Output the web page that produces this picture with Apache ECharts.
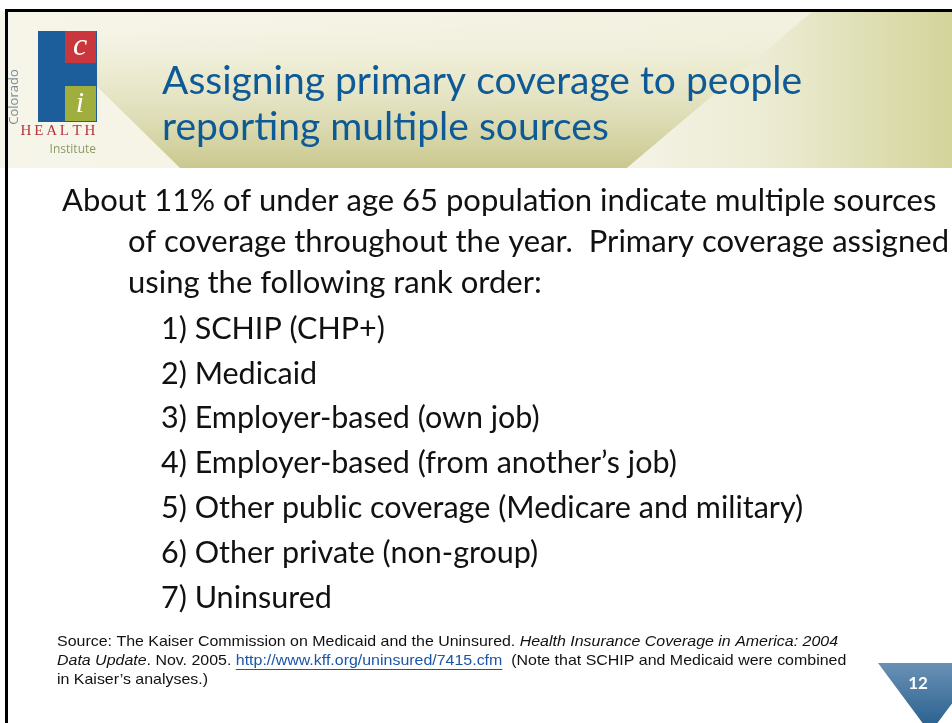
<!DOCTYPE html>
<html><head><meta charset="utf-8">
<script src="https://cdn.jsdelivr.net/npm/echarts@6/dist/echarts.min.js"></script>
<style>html,body{margin:0;padding:0;background:#fff}#c{width:952px;height:723px}</style>
</head><body><div id="c"></div><script>
const titleLines = ["Assigning primary coverage to people", "reporting multiple sources"];
const introLines = [
  "About 11% of under age 65 population indicate multiple sources",
  "of coverage throughout the year.  Primary coverage assigned",
  "using the following rank order:"
];
const rankItems = [
  "SCHIP (CHP+)",
  "Medicaid",
  "Employer-based (own job)",
  "Employer-based (from another’s job)",
  "Other public coverage (Medicare and military)",
  "Other private (non-group)",
  "Uninsured"
];
const sourceLine1 = ["Source: The Kaiser Commission on Medicaid and the Uninsured. ", "Health Insurance Coverage in America: 2004"];
const sourceLine2 = ["Data Update", ". Nov. 2005. ", "http://www.kff.org/uninsured/7415.cfm", "  (Note that SCHIP and Medicaid were combined"];
const sourceLine3 = "in Kaiser’s analyses.)";
const logoWords = ["Colorado", "HEALTH", "Institute"];
const pageNumber = "12";

const BODY_FONT = 'Lato';
const SRC_FONT = '"Liberation Sans", Arial, sans-serif';
const mctx = document.createElement('canvas').getContext('2d');
function tw(str, font) { mctx.font = font; return mctx.measureText(str).width; }

const chart = echarts.init(document.getElementById('c'), null, {renderer: 'canvas'});
const g = [];

// Header band
g.push({type: 'rect', shape: {x: 0, y: 11, width: 952, height: 157},
  style: {fill: new echarts.graphic.LinearGradient(0, 0, 1, 0, [{offset: 0, color: '#f6f5e9'}, {offset: 1, color: '#f1f0dd'}])}});
g.push({type: 'polygon', shape: {points: [[20, 11], [813, 11], [627, 168], [180, 168]]},
  style: {fill: new echarts.graphic.LinearGradient(0, 0, 0, 1, [
    {offset: 0, color: 'rgba(246,245,233,0)'}, {offset: 0.35, color: 'rgba(232,231,200,0.6)'}, {offset: 1, color: '#c9c88e'}])}});
g.push({type: 'polygon', shape: {points: [[813, 11], [952, 11], [952, 168], [627, 168]]},
  style: {fill: new echarts.graphic.LinearGradient(627, 0, 952, 0, [
    {offset: 0, color: '#f4f3e6'}, {offset: 0.45, color: '#ecebd2'}, {offset: 1, color: '#d3d49a'}], true)}});

// Borders
g.push({type: 'rect', shape: {x: 5, y: 9, width: 947, height: 3}, style: {fill: '#000'}});
g.push({type: 'rect', shape: {x: 5, y: 9, width: 3, height: 714}, style: {fill: '#000'}});

// Logo
g.push({type: 'rect', shape: {x: 38, y: 31, width: 59, height: 91}, style: {fill: '#1c5e9c'}});
g.push({type: 'rect', shape: {x: 65, y: 31, width: 31, height: 32}, style: {fill: '#c9373c'}});
g.push({type: 'rect', shape: {x: 65, y: 86, width: 31, height: 35}, style: {fill: '#9fae3c'}});
g.push({type: 'text', x: 80, y: 47, style: {text: 'c', font: 'italic 32px "Liberation Serif", serif', fill: '#fff', align: 'center', verticalAlign: 'middle'}});
g.push({type: 'text', x: 80, y: 104, style: {text: 'i', font: 'italic 30px "Liberation Serif", serif', fill: '#fff', align: 'center', verticalAlign: 'middle'}});
g.push({type: 'text', x: 14, y: 97, rotation: Math.PI / 2, style: {text: logoWords[0], font: '13px "Open Sans", sans-serif', fill: '#7c8a96', align: 'center', verticalAlign: 'middle'}});
logoWords[1].split('').forEach((ch, i) => {
  g.push({type: 'text', x: 26 + i * 12.8, y: 131, style: {text: ch, font: '15px "Liberation Serif", serif', fill: '#b9343b', align: 'center', verticalAlign: 'middle'}});
});
g.push({type: 'text', x: 96, y: 150, style: {text: logoWords[2], font: '12px "Open Sans", sans-serif', fill: '#8c9b64', align: 'right', verticalAlign: 'middle'}});

// Title
titleLines.forEach((t, i) => {
  g.push({type: 'text', x: 162, y: 81 + i * 46, style: {text: t, font: '39px ' + BODY_FONT, fill: '#0d5a97', verticalAlign: 'middle'}});
});

// Intro
const introX = [62, 128, 128];
const introY = [201, 242, 283];
introLines.forEach((t, i) => {
  g.push({type: 'text', x: introX[i], y: introY[i], style: {text: t, font: '31px ' + BODY_FONT, fill: '#111', verticalAlign: 'middle'}});
});
rankItems.forEach((t, i) => {
  g.push({type: 'text', x: 161, y: 329 + i * 44.8, style: {text: (i + 1) + ') ' + t, font: '30.5px ' + BODY_FONT, fill: '#111', verticalAlign: 'middle'}});
});

// Source (slightly widened to match the slide's stretched text)
const sN = '15px ' + SRC_FONT, sI = 'italic 15px ' + SRC_FONT;
const src = [];
let x = 0;
src.push({type: 'text', x: x, y: 642, style: {text: sourceLine1[0], font: sN, fill: '#111', verticalAlign: 'middle'}});
x += tw(sourceLine1[0], sN);
src.push({type: 'text', x: x, y: 642, style: {text: sourceLine1[1], font: sI, fill: '#111', verticalAlign: 'middle'}});
x = 0;
const segFonts = [sI, sN, sN, sN];
sourceLine2.forEach((s, i) => {
  const isLink = i === 2;
  src.push({type: 'text', x: x, y: 661, style: {text: s, font: segFonts[i], fill: isLink ? '#1a56a8' : '#111', verticalAlign: 'middle'}});
  const w = tw(s, segFonts[i]);
  if (isLink) src.push({type: 'rect', shape: {x: x, y: 669, width: w, height: 1}, style: {fill: '#1a56a8'}});
  x += w;
});
src.push({type: 'text', x: 0, y: 680, style: {text: sourceLine3, font: sN, fill: '#111', verticalAlign: 'middle'}});
const totalW = tw(sourceLine1[0], sN) + tw(sourceLine1[1], sI);
g.push({type: 'group', x: 57, y: 0, scaleX: 781 / totalW, children: src});

// Page number triangle
g.push({type: 'polygon', shape: {points: [[878, 663], [982, 663], [930, 733]]},
  style: {fill: new echarts.graphic.LinearGradient(0, 0, 0, 1, [{offset: 0, color: '#6a91b5'}, {offset: 1, color: '#235c8b'}])}});
g.push({type: 'text', x: 918, y: 684, style: {text: pageNumber, font: 'bold 17px ' + BODY_FONT, fill: '#fff', align: 'center', verticalAlign: 'middle'}});

chart.setOption({animation: false, graphic: {elements: g}});
</script></body></html>
